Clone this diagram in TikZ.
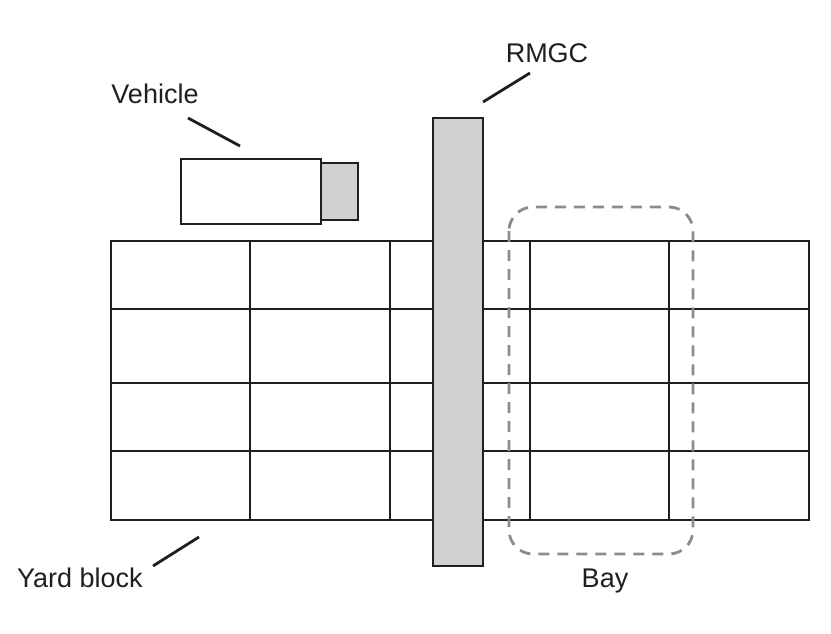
\documentclass[tikz,border=0pt]{standalone}
\usepackage{fontspec}
\setmainfont{Liberation Sans}
\begin{document}
\begin{tikzpicture}[x=1pt,y=-1pt,
  ink/.style={draw=black!88,line width=2.8pt},
  lbl/.style={font=\fontsize{27}{31}\selectfont,text=black!88,inner sep=0pt,anchor=base},
  leader/.style={draw=black!88,line width=2.8pt},
  bayline/.style={draw=black!45,line width=2.8pt,dash pattern=on 11pt off 8pt,rounded corners=24pt}]
\useasboundingbox (0,0) rectangle (831,634);
% yard grid
\draw[ink] (111,241) rectangle (809,520);
\foreach \yy in {309,383,451}{\draw[ink] (111,\yy) -- (809,\yy);}
\foreach \xx in {250,390,530,669}{\draw[ink] (\xx,241) -- (\xx,520);}
\node (yard) at (460,380) {};
% bay
\draw[bayline] (509,207) rectangle (693,554);
\node (bay) at (601,554) {};
% crane
\draw[ink,fill=black!18] (433,118) rectangle (483,566);
\node (crane) at (458,118) {};
% vehicle
\draw[ink,fill=white] (181,159) rectangle (321,224);
\draw[ink,fill=black!18] (321,163) rectangle (358,220);
\node (veh) at (250,190) {};
% labels
\node[lbl] (tveh) at (155,103) {Vehicle};
\node[lbl] (trmgc) at (547,63) {RMGC};
\node[lbl] (tbay) at (605,587) {Bay};
\node[lbl] (tyard) at (80,587) {Yard block};
\coordinate (v1) at (188,118); \coordinate (v2) at (240,146);
\coordinate (r1) at (530,73); \coordinate (r2) at (483,102);
\coordinate (y1) at (153,566); \coordinate (y2) at (199,537);
\draw[leader] (v1) -- (v2);
\draw[leader] (r1) -- (r2);
\draw[leader] (y1) -- (y2);
\end{tikzpicture}
\end{document}
